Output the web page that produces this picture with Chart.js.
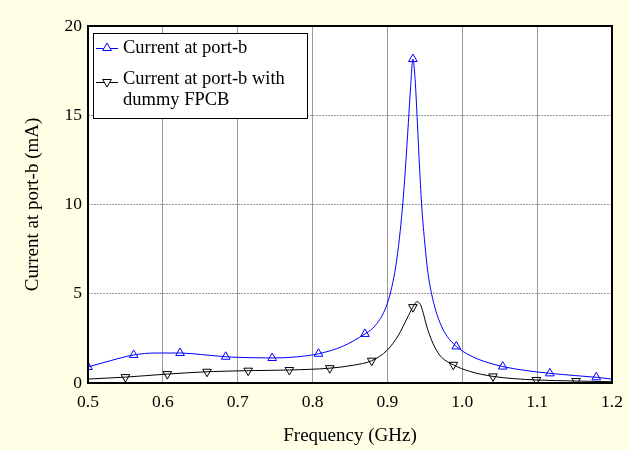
<!DOCTYPE html>
<html>
<head>
<meta charset="utf-8">
<title>Current at port-b</title>
<script src="https://cdn.jsdelivr.net/npm/chart.js@4/dist/chart.umd.min.js"></script>
<style>
  html, body { margin: 0; padding: 0; background: #FFFFE6; }
  #wrap { width: 629px; height: 450px; }
</style>
</head>
<body>
<div id="wrap"><canvas id="c" width="629" height="450"></canvas></div>
<script>
// Frequency sweep (GHz) and measured current (mA) for port-b
const portBFreq = [0.500, 0.530, 0.561, 0.590, 0.623, 0.650, 0.684, 0.715, 0.746, 0.780, 0.808, 0.840,
                   0.870, 0.880, 0.888, 0.895, 0.901, 0.906, 0.911, 0.916, 0.920, 0.924, 0.928, 0.931,
                   0.934, 0.937, 0.940, 0.943, 0.946, 0.950, 0.954, 0.959, 0.965, 0.972, 0.980, 0.992,
                   1.010, 1.030, 1.054, 1.085, 1.117, 1.150, 1.179, 1.200];
const portBCurrent = [0.90, 1.25, 1.57, 1.68, 1.68, 1.60, 1.47, 1.42, 1.40, 1.47, 1.64, 2.05,
                      2.75, 3.05, 3.45, 3.95, 4.60, 5.40, 6.50, 8.10, 9.80, 12.0, 14.6, 16.6,
                      18.15, 17.0, 14.6, 12.0, 9.80, 7.80, 6.20, 5.00, 4.00, 3.20, 2.60, 2.05,
                      1.55, 1.20, 0.92, 0.70, 0.54, 0.42, 0.32, 0.22];
// indices of samples shown with a marker
const portBMarkers = [0, 2, 4, 6, 8, 10, 12, 24, 35, 38, 40, 42];

// Same port with the dummy FPCB attached
const dummyFreq = [0.500, 0.550, 0.606, 0.659, 0.714, 0.769, 0.823, 0.855, 0.879, 0.900, 0.915, 0.926,
                   0.934, 0.939, 0.944, 0.948, 0.952, 0.960, 0.970, 0.988, 1.010, 1.041, 1.070, 1.099,
                   1.152, 1.200];
const dummyCurrent = [0.22, 0.33, 0.50, 0.63, 0.69, 0.73, 0.83, 1.00, 1.25, 1.85, 2.70, 3.60,
                      4.25, 4.55, 4.40, 3.90, 3.25, 2.30, 1.55, 1.02, 0.65, 0.37, 0.24, 0.17,
                      0.11, 0.07];
const dummyMarkers = [1, 2, 3, 4, 5, 6, 8, 12, 19, 21, 23, 24];

const seriesNames = ['Current at port-b', ['Current at port-b with', 'dummy FPCB']];
const xTitle = 'Frequency (GHz)';
const yTitle = 'Current at port-b (mA)';

const SERIF = "'Liberation Serif', 'Times New Roman', serif";

function toPoints(xs, ys) { return xs.map((x, i) => ({ x: x, y: ys[i] })); }

// white plotting area on the pale page
const plotBackground = {
  id: 'plotBackground',
  beforeDraw(chart) {
    const { ctx, chartArea: a } = chart;
    ctx.save();
    ctx.fillStyle = '#FFFFE6';
    ctx.fillRect(0, 0, chart.width, chart.height);
    ctx.fillStyle = '#FFFFFF';
    ctx.fillRect(a.left, a.top, a.right - a.left, a.bottom - a.top);
    ctx.restore();
  }
};

// frame round the plot and a boxed legend inside its top-left corner
const frameAndLegend = {
  id: 'frameAndLegend',
  afterDraw(chart) {
    const { ctx, chartArea: a } = chart;
    ctx.save();
    ctx.strokeStyle = '#000';
    ctx.lineWidth = 2;
    ctx.strokeRect(a.left, a.top, a.right - a.left, a.bottom - a.top);

    const bx = a.left + 5, by = a.top + 7, bw = 214, bh = 85;
    ctx.fillStyle = '#FFFFFF';
    ctx.fillRect(bx, by, bw, bh);
    ctx.lineWidth = 1;
    ctx.strokeStyle = '#000';
    ctx.strokeRect(bx + 0.5, by + 0.5, bw, bh);

    const sampleY = [by + 15, by + 49];
    const textY = [[by + 15.5], [by + 46.5, by + 67.5]];
    chart.data.datasets.forEach((ds, i) => {
      const y = sampleY[i];
      const x0 = bx + 3, x1 = bx + 25;
      ctx.strokeStyle = ds.borderColor;
      ctx.lineWidth = 1;
      ctx.beginPath();
      ctx.moveTo(x0, y + 0.5);
      ctx.lineTo(x1, y + 0.5);
      ctx.stroke();
      ctx.fillStyle = '#FFFFFF';
      Chart.helpers.drawPoint(ctx, {
        pointStyle: ds.pointStyle,
        rotation: ds.pointRotation || 0,
        radius: 5,
        borderWidth: 1
      }, (x0 + x1) / 2, y);

      ctx.fillStyle = '#000';
      ctx.font = '18.5px ' + SERIF;
      ctx.textBaseline = 'middle';
      ctx.textAlign = 'left';
      const lines = Array.isArray(seriesNames[i]) ? seriesNames[i] : [seriesNames[i]];
      lines.forEach((t, k) => ctx.fillText(t, bx + 30, textY[i][k]));
    });
    ctx.restore();
  }
};

function markerRadius(list) {
  return (c) => list.indexOf(c.dataIndex) >= 0 ? 5 : 0;
}

new Chart(document.getElementById('c'), {
  type: 'line',
  data: {
    datasets: [
      {
        label: 'Current at port-b',
        data: toPoints(portBFreq, portBCurrent),
        borderColor: '#0000FF',
        backgroundColor: 'rgba(255,255,255,0)',
        borderWidth: 1,
        pointStyle: 'triangle',
        pointRotation: 0,
        pointRadius: markerRadius(portBMarkers),
        pointBorderWidth: 1,
        pointBorderColor: '#0000FF',
        pointBackgroundColor: 'rgba(255,255,255,0)',
        cubicInterpolationMode: 'monotone',
        fill: false
      },
      {
        label: 'Current at port-b with dummy FPCB',
        data: toPoints(dummyFreq, dummyCurrent),
        borderColor: '#000000',
        backgroundColor: 'rgba(255,255,255,0)',
        borderWidth: 1,
        pointStyle: 'triangle',
        pointRotation: 180,
        pointRadius: markerRadius(dummyMarkers),
        pointBorderWidth: 1,
        pointBorderColor: '#000000',
        pointBackgroundColor: 'rgba(255,255,255,0)',
        cubicInterpolationMode: 'monotone',
        fill: false
      }
    ]
  },
  options: {
    responsive: false,
    animation: false,
    events: [],
    layout: { padding: { top: 26, right: 17, left: 0, bottom: 0 } },
    plugins: { legend: { display: false }, tooltip: { enabled: false } },
    scales: {
      x: {
        type: 'linear',
        min: 0.5,
        max: 1.2,
        ticks: {
          stepSize: 0.1,
          callback: (v) => Number(v).toFixed(1),
          padding: 9,
          color: '#000',
          maxRotation: 0,
          font: { family: SERIF, size: 17.5 }
        },
        grid: { color: '#9A9A9A', lineWidth: 1, drawTicks: false },
        border: { display: false },
        title: {
          display: true,
          text: xTitle,
          color: '#000',
          font: { family: SERIF, size: 19 },
          padding: { top: 0, bottom: 2.5 }
        },
        afterFit(scale) {
          scale.height = 67;
          scale.paddingLeft = 0;
          scale.paddingRight = 0;
        }
      },
      y: {
        type: 'linear',
        min: 0,
        max: 20,
        ticks: {
          stepSize: 5,
          padding: 6,
          color: '#000',
          font: { family: SERIF, size: 17.5 }
        },
        grid: { color: '#9A9A9A', lineWidth: 1, drawTicks: false },
        border: { display: false, dash: [2, 1] },
        title: {
          display: true,
          text: yTitle,
          color: '#000',
          font: { family: SERIF, size: 19 },
          padding: { top: 22, bottom: 0 }
        },
        afterFit(scale) { scale.width = 88; }
      }
    }
  },
  plugins: [plotBackground, frameAndLegend]
});
</script>
</body>
</html>
